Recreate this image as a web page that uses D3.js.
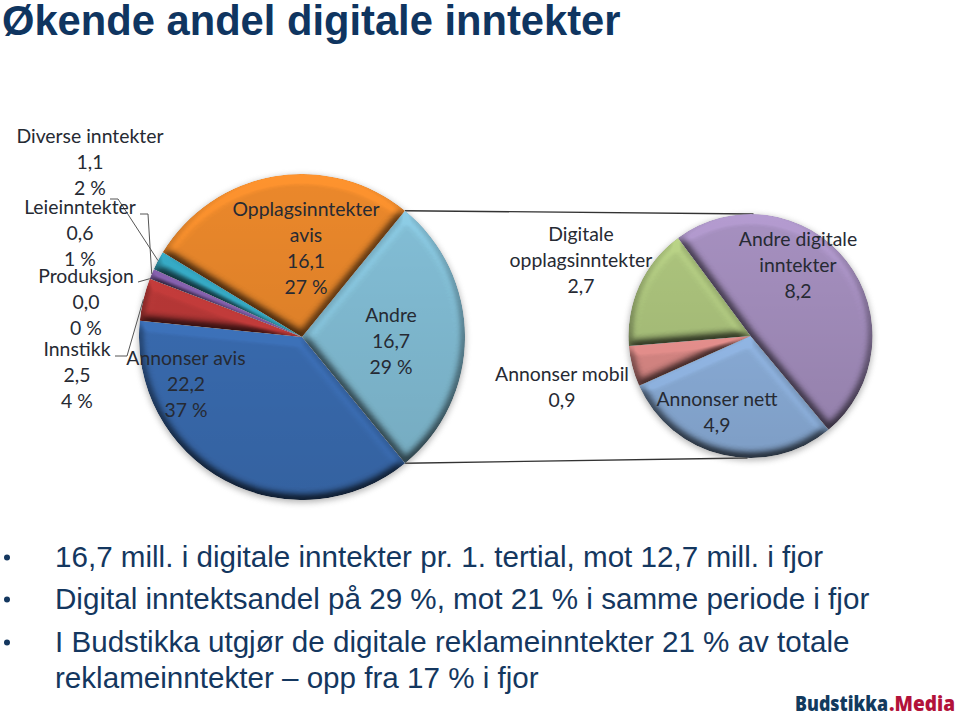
<!DOCTYPE html>
<html><head><meta charset="utf-8">
<script src="https://cdn.jsdelivr.net/npm/d3@7"></script>
<style>html,body{margin:0;padding:0;background:#fff}svg{display:block}</style>
</head><body><svg id="c" width="959" height="714"></svg>
<script>
const titleText = "Økende andel digitale inntekter";
const mainCategories = ["Andre","Annonser avis","Innstikk","Produksjon","Leieinntekter","Diverse inntekter","Opplagsinntekter avis"];
const mainValues = [16.7,22.2,2.5,0.0,0.6,1.1,16.1];
const mainColors = ["#88c6de","#3d72bb","#c23b3a","#c23b3a","#8560ad","#35a8c2","#f28c2c"];
const subCategories = ["Andre digitale inntekter","Annonser nett","Annonser mobil","Digitale opplagsinntekter"];
const subValues = [8.2,4.9,0.9,2.7];
const subColors = ["#ab94c6","#93b8e6","#e6908d","#b3cc82"];
const bullets = [
 ["16,7 mill. i digitale inntekter pr. 1. tertial, mot 12,7 mill. i fjor"],
 ["Digital inntektsandel på 29 %, mot 21 % i samme periode i fjor"],
 ["I Budstikka utgjør de digitale reklameinntekter 21 % av totale","reklameinntekter – opp fra 17 % i fjor"]
];
const mainLabels = [
 {lines:["Diverse inntekter","1,1","2 %"],x:90,y:143},
 {lines:["Leieinntekter","0,6","1 %"],x:80,y:214},
 {lines:["Produksjon","0,0","0 %"],x:86,y:283},
 {lines:["Innstikk","2,5","4 %"],x:77,y:356},
 {lines:["Annonser avis","22,2","37 %"],x:186,y:365},
 {lines:["Opplagsinntekter","avis","16,1","27 %"],x:306,y:216},
 {lines:["Andre","16,7","29 %"],x:391,y:322}
];
const subLabels = [
 {lines:["Digitale","opplagsinntekter","2,7"],x:581,y:241},
 {lines:["Annonser mobil","0,9"],x:562,y:381},
 {lines:["Annonser nett","4,9"],x:717,y:406},
 {lines:["Andre digitale","inntekter","8,2"],x:798,y:246}
];

const svg = d3.select("#c");
const defs = svg.append("defs");

const bevel = defs.append("filter").attr("id","bevel").attr("x","-5%").attr("y","-5%").attr("width","110%").attr("height","110%").attr("color-interpolation-filters","sRGB");
bevel.append("feGaussianBlur").attr("in","SourceAlpha").attr("stdDeviation",5).attr("result","b");
const dl = bevel.append("feDiffuseLighting").attr("in","b").attr("surfaceScale",6).attr("diffuseConstant",1.05).attr("lighting-color","#fff").attr("result","light");
dl.append("feDistantLight").attr("azimuth",270).attr("elevation",62);
bevel.append("feComposite").attr("in","SourceGraphic").attr("in2","light").attr("operator","arithmetic").attr("k1",1.05).attr("k2",0).attr("k3",0).attr("k4",0).attr("result","lit");
bevel.append("feComposite").attr("in","lit").attr("in2","SourceAlpha").attr("operator","in");

const shadow = defs.append("filter").attr("id","shadow").attr("x","-10%").attr("y","-10%").attr("width","120%").attr("height","120%");
shadow.append("feGaussianBlur").attr("stdDeviation",3);

const shade = defs.append("linearGradient").attr("id","shade").attr("x1",0).attr("y1",0).attr("x2",0).attr("y2",1);
shade.append("stop").attr("offset",0).attr("stop-color","#000").attr("stop-opacity",0);
shade.append("stop").attr("offset",1).attr("stop-color","#000").attr("stop-opacity",0.12);

function drawPie(values, colors, cx, cy, r, start){
  const pie = d3.pie().sort(null).startAngle(start).endAngle(start+2*Math.PI);
  const arc = d3.arc().innerRadius(0).outerRadius(r);
  const g = svg.append("g").attr("transform",`translate(${cx},${cy})`);
  g.append("circle").attr("cx",0).attr("cy",2).attr("r",r+0.5).attr("fill","#777").attr("opacity",0.55).attr("filter","url(#shadow)");
  g.selectAll("path.s").data(pie(values)).join("path").attr("class","s")
    .attr("d",arc).attr("fill",(d,i)=>colors[i]).attr("filter","url(#bevel)");
  g.append("circle").attr("r",r).attr("fill","url(#shade)");
}

const mainCx=302, mainCy=337, mainR=163, subCx=750.5, subCy=336, subR=122;
const mainArcs = d3.pie().sort(null).startAngle(39.2*Math.PI/180).endAngle((39.2+360)*Math.PI/180)(mainValues);
const pt = (a,r,cx,cy)=>[cx+r*Math.sin(a),cy-r*Math.cos(a)];
const connTop = pt(mainArcs[0].startAngle,mainR,mainCx,mainCy);
const connBot = pt(mainArcs[0].endAngle,mainR,mainCx,mainCy);
const line = d3.line();
const conn = svg.append("g").attr("fill","none").attr("stroke","#333").attr("stroke-width",1.4);
conn.append("path").attr("d",line([connTop,[subCx+3,subCy-subR]]));
conn.append("path").attr("d",line([connBot,[subCx-3,subCy+subR]]));

drawPie(mainValues,mainColors,mainCx,mainCy,mainR,39.2*Math.PI/180);
drawPie(subValues,subColors,subCx,subCy,subR,-36.5*Math.PI/180);

const mid = i=>(mainArcs[i].startAngle+mainArcs[i].endAngle)/2;
const leaders = [
  [[110,199],[118,199],pt(mid(5),mainR,mainCx,mainCy)],
  [[140,214],[148,214],pt(mid(4),mainR,mainCx,mainCy)],
  [[138,282],pt(mid(3),mainR,mainCx,mainCy)],
  [[115,356],[127,356],pt(mid(2),mainR,mainCx,mainCy)]
];
svg.append("g").attr("fill","none").attr("stroke","#555").attr("stroke-width",1)
  .selectAll("path").data(leaders).join("path").attr("d",d=>line(d));

function labels(list){
  const g = svg.append("g").attr("font-family","Lato, 'Open Sans', sans-serif").attr("font-size",19.4).attr("fill","#262a33").attr("text-anchor","middle");
  list.forEach(l=>{
    const t = g.append("text").attr("x",l.x).attr("y",l.y);
    l.lines.forEach((s,i)=>t.append("tspan").attr("x",l.x).attr("y",l.y+i*26).text(s));
  });
}
labels(mainLabels);
labels(subLabels);

svg.append("text").attr("x",2).attr("y",35).attr("font-family","'Liberation Sans', Arial, sans-serif").attr("font-weight",700).attr("font-size",41.7).attr("fill","#0f3560").text(titleText);

const bg = svg.append("g").attr("font-family","'Liberation Sans', Arial, sans-serif").attr("font-size",29.6).attr("fill","#14375f");
const bulletY = [567,609,652];
bullets.forEach((b,i)=>{
  bg.append("circle").attr("cx",7).attr("cy",bulletY[i]-9.5).attr("r",3).attr("fill","#14375f");
  b.forEach((s,j)=>bg.append("text").attr("x",55).attr("y",bulletY[i]+j*36).text(s));
});

const logoG = svg.append("g").attr("font-family","'Open Sans', sans-serif").attr("font-weight",800).attr("font-size",21);
logoG.append("text").attr("x",795).attr("y",711).attr("fill","#123a5e").attr("textLength",93).attr("lengthAdjust","spacingAndGlyphs").text("Budstikka");
logoG.append("text").attr("x",889).attr("y",711).attr("fill","#b2123a").attr("textLength",66).attr("lengthAdjust","spacingAndGlyphs").text(".Media");
</script></body></html>
